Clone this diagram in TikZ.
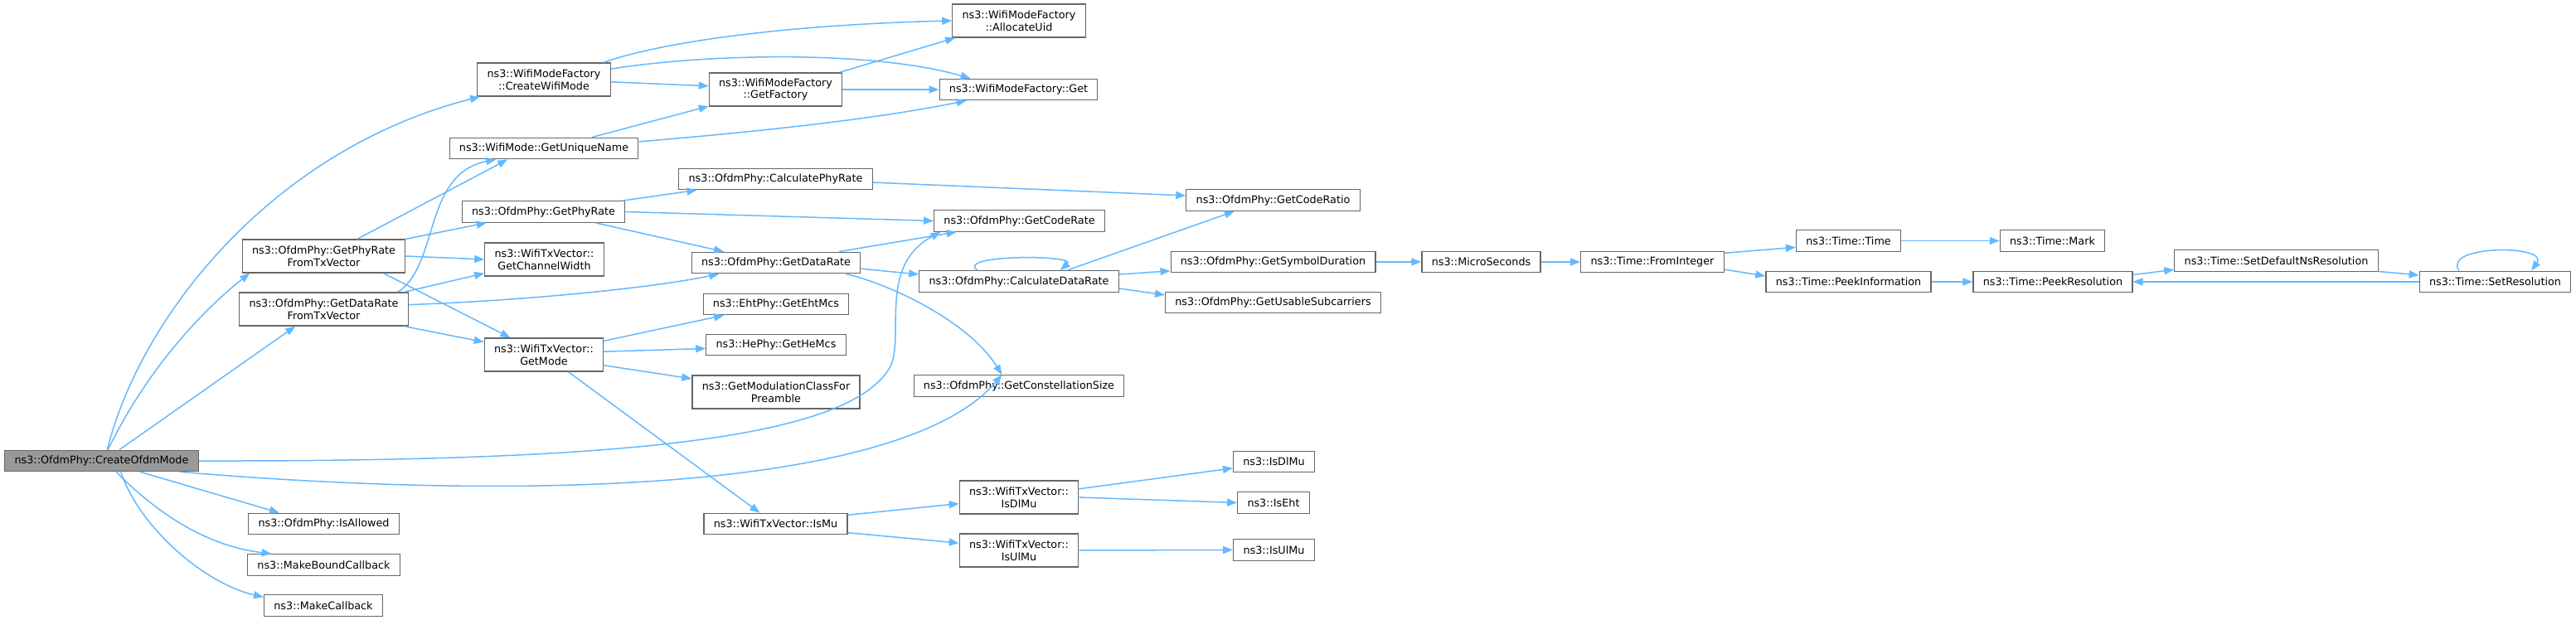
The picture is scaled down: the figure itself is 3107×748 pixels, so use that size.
\documentclass[tikz,border=0pt]{standalone}
\usepackage{fontspec}
\setmainfont{DejaVu Sans}
\usetikzlibrary{arrows.meta}
\definecolor{edgeblue}{HTML}{63B8FF}

\begin{document}
\begin{tikzpicture}[x=0.5pt, y=-0.5pt,
  font=\fontsize{6.38pt}{7.35pt}\selectfont,
  fn/.style={draw=black!60, line width=0.6pt, fill=white, inner xsep=5.9pt,
    inner ysep=0pt, minimum height=12.75pt, align=center},
  fn2/.style={fn, minimum height=20pt},
  root/.style={fn, fill=black!40},
  call/.style={draw=edgeblue, line width=0.75pt, -{Triangle[length=6pt,width=4.5pt]}}]
    \useasboundingbox (0,0) rectangle (3107,748);
    \node[root] (ofdm_create) at (122.5,556) {ns3::OfdmPhy::CreateOfdmMode};
    %
    \node[fn2] (wmf_create) at (656,96) {ns3::WifiModeFactory\\::CreateWifiMode};
    \node[fn] (wm_unique) at (656,179) {ns3::WifiMode::GetUniqueName};
    \node[fn] (ofdm_phyrate) at (655.5,255.5) {ns3::OfdmPhy::GetPhyRate};
    \node[fn2] (txv_width) at (656.5,313) {ns3::WifiTxVector::\\GetChannelWidth};
    \node[fn2] (ofdm_phyrate_tx) at (390.5,309) {ns3::OfdmPhy::GetPhyRate\\FromTxVector};
    \node[fn2] (ofdm_datarate_tx) at (390.5,373) {ns3::OfdmPhy::GetDataRate\\FromTxVector};
    \node[fn2] (txv_mode) at (656,428) {ns3::WifiTxVector::\\GetMode};
    \node[fn] (ofdm_allowed) at (390.5,632) {ns3::OfdmPhy::IsAllowed};
    \node[fn] (make_bound) at (390.5,681.5) {ns3::MakeBoundCallback};
    \node[fn] (make_cb) at (390,730.5) {ns3::MakeCallback};
    %
    \node[fn2] (wmf_alloc) at (1229,25) {ns3::WifiModeFactory\\::AllocateUid};
    \node[fn2] (wmf_factory) at (935.5,108) {ns3::WifiModeFactory\\::GetFactory};
    \node[fn] (wmf_get) at (1228.5,108) {ns3::WifiModeFactory::Get};
    \node[fn] (ofdm_calc_phy) at (935.5,216) {ns3::OfdmPhy::CalculatePhyRate};
    \node[fn] (ofdm_coderate) at (1229.5,266.5) {ns3::OfdmPhy::GetCodeRate};
    \node[fn] (ofdm_datarate) at (936,317) {ns3::OfdmPhy::GetDataRate};
    \node[fn] (ofdm_calc_data) at (1229,339.5) {ns3::OfdmPhy::CalculateDataRate};
    \node[fn] (eht_mcs) at (936,367) {ns3::EhtPhy::GetEhtMcs};
    \node[fn] (he_mcs) at (936,416) {ns3::HePhy::GetHeMcs};
    \node[fn2] (mod_class) at (936,473) {ns3::GetModulationClassFor\\Preamble};
    \node[fn] (ofdm_constsize) at (1229,465.5) {ns3::OfdmPhy::GetConstellationSize};
    \node[fn] (txv_ismu) at (935.5,632) {ns3::WifiTxVector::IsMu};
    \node[fn2] (txv_isdlmu) at (1229,600) {ns3::WifiTxVector::\\IsDlMu};
    \node[fn2] (txv_isulmu) at (1229,664) {ns3::WifiTxVector::\\IsUlMu};
    %
    \node[fn] (ofdm_coderatio) at (1535.5,241.5) {ns3::OfdmPhy::GetCodeRatio};
    \node[fn] (ofdm_symdur) at (1535.5,316) {ns3::OfdmPhy::GetSymbolDuration};
    \node[fn] (ofdm_subcar) at (1535.5,365) {ns3::OfdmPhy::GetUsableSubcarriers};
    \node[fn] (is_dlmu) at (1536.5,557) {ns3::IsDlMu};
    \node[fn] (is_eht) at (1536,606.5) {ns3::IsEht};
    \node[fn] (is_ulmu) at (1536.5,663.5) {ns3::IsUlMu};
    \node[fn] (micro) at (1786.5,316) {ns3::MicroSeconds};
    \node[fn] (time_fromint) at (1993,316) {ns3::Time::FromInteger};
    \node[fn] (time_time) at (2229.5,290.5) {ns3::Time::Time};
    \node[fn] (time_peekinfo) at (2229.5,340) {ns3::Time::PeekInformation};
    \node[fn] (time_mark) at (2475.5,290.5) {ns3::Time::Mark};
    \node[fn] (time_peekres) at (2476,340) {ns3::Time::PeekResolution};
    \node[fn] (time_setdef) at (2745.5,314.5) {ns3::Time::SetDefaultNsResolution};
    \node[fn] (time_setres) at (3009.5,340) {ns3::Time::SetResolution};
    %
    \draw[call] (ofdm_create.63) .. controls (170,380) and (330,180) .. (wmf_create.195);
    \draw[call] (ofdm_create.60) .. controls (180,440) and (250,370) .. (ofdm_phyrate_tx.193);
    \draw[call] (ofdm_create.32) -- (ofdm_datarate_tx.211);
    \draw[call] (ofdm_create.east) .. controls (750,557) and (1030,530) .. (1075,440)
      .. controls (1090,400) and (1060,320) .. (ofdm_coderate.188);
    \draw[call] (ofdm_create.352) .. controls (700,610) and (1100,580) .. (ofdm_constsize.147);
    \draw[call] (ofdm_create.344) -- (ofdm_allowed.166);
    \draw[call] (ofdm_create.323) .. controls (200,630) and (260,660) .. (make_bound.168);
    \draw[call] (ofdm_create.330) .. controls (170,640) and (250,705) .. (make_cb.172);
    %
    \draw[call] (ofdm_phyrate_tx.27) -- (wm_unique.197);
    \draw[call] (ofdm_phyrate_tx.north east) -- (ofdm_phyrate.191);
    \draw[call] (ofdm_phyrate_tx.east) -- (txv_width.west);
    \draw[call] (ofdm_phyrate_tx.344) -- (txv_mode.153);
    \draw[call] (ofdm_datarate_tx.13) .. controls (530,320) and (510,210) .. (wm_unique.193);
    \draw[call] (ofdm_datarate_tx.12) -- (txv_width.193);
    \draw[call] (ofdm_datarate_tx.3) .. controls (650,362) and (800,345) .. (ofdm_datarate.191);
    \draw[call] (ofdm_datarate_tx.348) -- (txv_mode.168);
    %
    \draw[call] (wmf_create.16) .. controls (800,50) and (950,30) .. (wmf_alloc.west);
    \draw[call] (wmf_create.9) .. controls (850,65) and (1050,60) .. (wmf_get.167);
    \draw[call] (wmf_create.358) -- (wmf_factory.177);
    \draw[call] (wm_unique.13) -- (wmf_factory.194);
    \draw[call] (wm_unique.4) .. controls (900,160) and (1050,145) .. (wmf_get.192);
    \draw[call] (wmf_factory.15) -- (wmf_alloc.195);
    \draw[call] (wmf_factory.east) -- (wmf_get.west);
    %
    \draw[call] (ofdm_phyrate.8) -- (ofdm_calc_phy.188);
    \draw[call] (ofdm_phyrate.east) -- (ofdm_coderate.west);
    \draw[call] (ofdm_phyrate.348) -- (ofdm_datarate.168);
    \draw[call] (ofdm_calc_phy.358) -- (ofdm_coderatio.177);
    \draw[call] (ofdm_datarate.10) -- (ofdm_coderate.190);
    \draw[call] (ofdm_datarate.356) -- (ofdm_calc_data.176);
    \draw[call] (ofdm_datarate.351) .. controls (1080,345) and (1170,390) .. (ofdm_constsize.147);
    \draw[call] (ofdm_calc_data.165) .. controls (1150,307) and (1300,307) .. (ofdm_calc_data.15);
    \draw[call] (ofdm_calc_data.13) -- (ofdm_coderatio.196);
    \draw[call] (ofdm_calc_data.4) -- (ofdm_symdur.185);
    \draw[call] (ofdm_calc_data.356) -- (ofdm_subcar.176);
    %
    \draw[call] (txv_mode.13) -- (eht_mcs.192);
    \draw[call] (txv_mode.3) -- (he_mcs.183);
    \draw[call] (txv_mode.350) -- (mod_class.171);
    \draw[call] (txv_mode.325) -- (txv_ismu.145);
    \draw[call] (txv_ismu.7) -- (txv_isdlmu.186);
    \draw[call] (txv_ismu.353) -- (txv_isulmu.173);
    \draw[call] (txv_isdlmu.8) -- (is_dlmu.189);
    \draw[call] (txv_isdlmu.east) -- (is_eht.west);
    \draw[call] (txv_isulmu.east) -- (is_ulmu.west);
    %
    \draw[call] (ofdm_symdur.east) -- (micro.west);
    \draw[call] (micro.east) -- (time_fromint.west);
    \draw[call] (time_fromint.7) -- (time_time.187);
    \draw[call] (time_fromint.354) -- (time_peekinfo.176);
    \draw[call] (time_time.east) -- (time_mark.west);
    \draw[call] (time_peekinfo.east) -- (time_peekres.west);
    \draw[call] (time_peekres.5) -- (time_setdef.185);
    \draw[call] (time_setdef.354) -- (time_setres.175);
    \draw[call] (time_setres.west) -- (time_peekres.east);
    \draw[call] (time_setres.163) .. controls (2945,295) and (3075,295) .. (time_setres.17);
\end{tikzpicture}
\end{document}
